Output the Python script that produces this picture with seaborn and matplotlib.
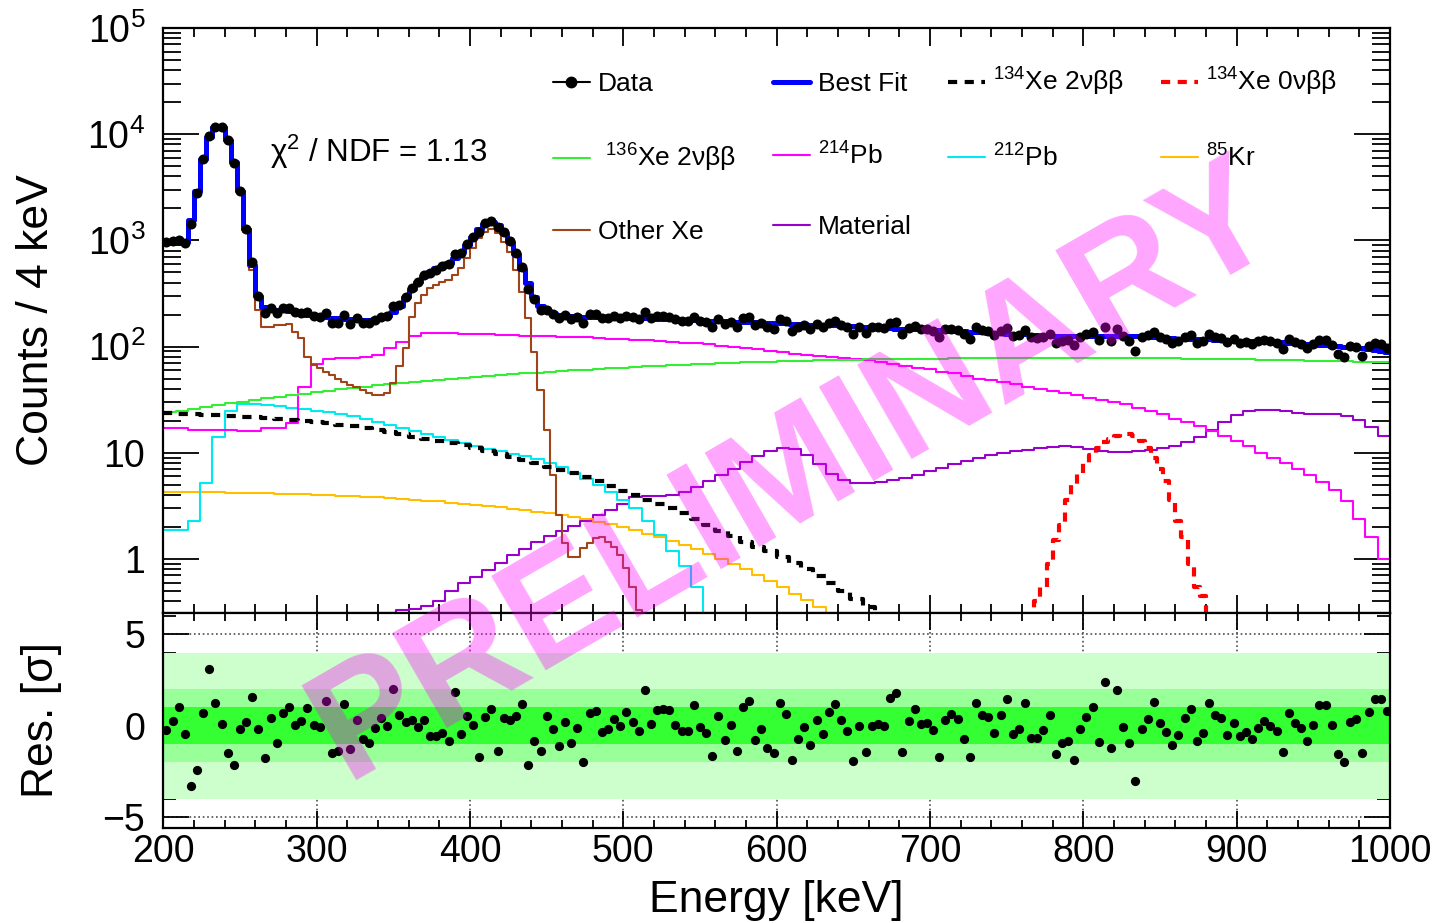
import numpy as np
import matplotlib
matplotlib.use("Agg")
import matplotlib.pyplot as plt
from matplotlib.lines import Line2D
from matplotlib.ticker import MultipleLocator, LogLocator, NullFormatter
import seaborn as sns

# binning in keV
edges4 = np.arange(200, 1001, 4)
edges8 = np.arange(200, 1001, 8)
centers4 = edges4[:-1] + 2

# data counts per 4 keV
data_counts = [
    968, 993, 1011, 946, 1430, 2820, 5852, 9700, 11732, 11611,
    8759, 5341, 2890, 1278, 628, 297, 208, 231, 208, 230,
    230, 211, 209, 213, 195, 192, 209, 166, 166, 199,
    164, 184, 168, 165, 179, 191, 195, 241, 249, 294,
    356, 409, 472, 493, 532, 571, 595, 738, 762, 922,
    1072, 1209, 1457, 1515, 1339, 1195, 981, 755, 567, 352,
    281, 219, 223, 203, 185, 200, 182, 191, 165, 201,
    201, 184, 186, 193, 187, 196, 189, 181, 211, 186,
    195, 195, 192, 181, 176, 175, 192, 175, 170, 153,
    181, 163, 172, 154, 185, 188, 160, 167, 152, 148,
    182, 173, 140, 154, 161, 148, 164, 154, 168, 173,
    161, 152, 131, 154, 135, 152, 152, 150, 168, 170,
    130, 150, 157, 146, 146, 140, 122, 145, 147, 143,
    130, 118, 152, 143, 140, 129, 140, 149, 126, 128,
    144, 122, 120, 124, 132, 109, 114, 115, 104, 123,
    130, 137, 116, 153, 112, 148, 125, 114, 91, 122,
    128, 137, 124, 117, 108, 113, 123, 128, 109, 113,
    130, 122, 121, 110, 117, 108, 110, 106, 112, 115,
    112, 108, 95, 117, 110, 106, 98, 106, 116, 115,
    103, 86, 80, 101, 100, 81, 101, 107, 105, 96,
]

best_fit = [
    975, 985, 980, 960, 1560, 2950, 5800, 9400, 11600, 11600,
    8900, 5500, 2900, 1270, 590, 300, 235, 225, 222, 220,
    215, 210, 205, 200, 195, 193, 190, 187, 185, 183,
    181, 180, 178, 178, 180, 185, 195, 212, 240, 290,
    350, 410, 465, 505, 545, 580, 615, 690, 775, 905,
    1070, 1270, 1440, 1480, 1390, 1180, 970, 740, 540, 395,
    295, 240, 215, 205, 200, 197, 195, 193, 192, 191,
    190, 189, 188, 188, 187, 186, 186, 185, 185, 184,
    183, 182, 181, 180, 179, 178, 177, 176, 175, 175,
    174, 173, 172, 172, 171, 170, 170, 169, 168, 167,
    166, 165, 164, 163, 162, 161, 160, 160, 159, 158,
    157, 156, 155, 154, 153, 152, 151, 150, 149, 148,
    148, 147, 146, 145, 144, 143, 142, 141, 140, 139,
    139, 138, 137, 136, 135, 134, 133, 132, 131, 130,
    130, 129, 128, 127, 126, 126, 125, 125, 125, 125,
    125, 126, 126, 126, 126, 126, 126, 125, 125, 124,
    124, 123, 122, 121, 120, 119, 119, 118, 118, 117,
    117, 116, 116, 115, 115, 114, 114, 113, 113, 112,
    112, 111, 110, 109, 108, 107, 106, 105, 104, 103,
    102, 101, 100, 99, 97, 96, 94, 93, 91, 89,
]

residuals = [
    -0.23, 0.26, 1.0, -0.45, -3.3, -2.4, 0.68, 3.1, 1.23, 0.1,
    -1.5, -2.14, -0.19, 0.23, 1.57, -0.19, -1.74, 0.41, -0.92, 0.68,
    1.0, 0.07, 0.26, 0.95, 0.03, -0.07, 1.36, -1.5, -1.38, 1.2,
    -1.27, 0.3, -0.72, -0.96, -0.1, 0.45, 0.0, 2.0, 0.6, 0.23,
    0.32, -0.07, 0.32, -0.54, -0.54, -0.38, -0.81, 1.83, -0.45, 0.55,
    0.07, -1.7, 0.46, 0.9, -1.38, 0.43, 0.34, 0.55, 1.17, -2.16,
    -0.81, -1.38, 0.53, -0.17, -1.09, 0.21, -0.96, -0.14, -1.96, 0.7,
    0.79, -0.35, -0.16, 0.39, -0.03, 0.75, 0.23, -0.3, 1.94, 0.12,
    0.88, 0.94, 0.85, 0.07, -0.26, -0.26, 1.15, -0.05, -0.41, -1.67,
    0.55, -0.79, 0.03, -1.38, 1.04, 1.37, -0.76, -0.17, -1.2, -1.5,
    1.22, 0.66, -1.85, -0.74, -0.05, -1.05, 0.34, -0.47, 0.73, 1.2,
    0.3, -0.3, -1.94, 0.0, -1.42, -0.02, 0.12, -0.02, 1.54, 1.78,
    -1.45, 0.25, 0.92, 0.1, 0.17, -0.23, -1.72, 0.32, 0.63, 0.35,
    -0.74, -1.68, 1.26, 0.59, 0.46, -0.39, 0.61, 1.47, -0.47, -0.18,
    1.26, -0.65, -0.67, -0.23, 0.57, -1.54, -0.96, -0.85, -1.87, -0.18,
    0.48, 1.0, -0.9, 2.41, -1.2, 1.96, -0.05, -0.96, -3.03, -0.16,
    0.39, 1.3, 0.15, -0.36, -1.07, -0.52, 0.41, 0.9, -0.83, -0.41,
    1.22, 0.59, 0.45, -0.5, 0.17, -0.56, -0.36, -0.71, -0.14, 0.28,
    -0.02, -0.31, -1.44, 0.72, 0.17, -0.14, -0.81, 0.07, 1.15, 1.13,
    0.07, -1.54, -1.96, 0.19, 0.35, -1.5, 0.75, 1.48, 1.48, 0.79,
]

# other Xe (4 keV bins)
other_xe = [
    940, 960, 950, 930, 1500, 2850, 5700, 9300, 11500, 11500,
    8800, 5400, 2800, 1200, 525, 221, 154, 154, 160, 160,
    162, 138, 120, 80, 67, 62.5, 58, 54, 50, 46.6,
    43.5, 42, 39, 36.3, 35, 35, 36.3, 45, 65, 96,
    190, 257, 305, 353, 380, 407, 420, 470, 545, 680,
    840, 1050, 1200, 1270, 1170, 970, 780, 525, 330, 185,
    89, 39, 16.4, 6.2, 2.6, 1.4, 1.05, 1.05, 1.26, 1.4,
    1.57, 1.6, 1.45, 1.3, 1.09, 0.82, 0.55, 0.33,
] + [0] * 122

# 134Xe 0vbb peak (4 keV bins)
xe134_0nbb = [0] * 142 + [
    0.4, 0.55, 0.9, 1.5, 2.1, 3.6, 5.0, 6.5, 8.0, 9.5,
    11, 12.5, 13.5, 14.5, 15, 15, 14.5, 13, 11, 9,
    7, 5.4, 3.6, 2.3, 1.6, 0.9, 0.55, 0.45,
] + [0] * 30

# the remaining components are read on 8 keV steps
xe136_2nbb = [
    24, 25, 26, 27, 28.2, 29.3, 30.4, 31.5, 32.6, 33.7,
    34.8, 36, 37.2, 38.4, 39.6, 40.8, 42, 43.2, 44.4, 45.5,
    46.6, 47.7, 48.8, 49.9, 51, 52, 53, 54, 55, 56,
    57, 57.9, 58.8, 59.7, 60.6, 61.5, 62.4, 63.3, 64.2, 65,
    65.8, 66.6, 67.4, 68.2, 69, 69.7, 70.4, 71, 71.6, 72.2,
    72.7, 73.2, 73.7, 74.1, 74.5, 74.9, 75.3, 75.6, 75.9, 76.2,
    76.5, 76.7, 76.9, 77.1, 77.3, 77.5, 77.6, 77.7, 77.8, 77.9,
    78, 78, 78.1, 78.1, 78.1, 78.1, 78, 78, 77.9, 77.8,
    77.7, 77.5, 77.3, 77.1, 76.9, 76.6, 76.3, 76, 75.7, 75.4,
    75, 74.6, 74.2, 73.8, 73.4, 73, 72.6, 72.2, 71.8, 71.4,
]

pb214 = [
    17, 17, 16.5, 16.5, 16.5, 16.5, 16, 16, 17, 17,
    19, 42, 68, 77, 78, 78, 80, 83, 97, 110,
    125, 133, 134, 133, 131, 131, 130, 129, 128, 127,
    126, 125, 124, 123, 122, 121, 119, 118, 116, 115,
    113, 111, 109, 107, 105, 102, 100, 97, 94, 91,
    88, 86, 84, 82, 80, 78, 76, 74, 71, 68,
    66, 63, 61, 58, 56, 53, 50, 48, 46, 44,
    42, 40, 38, 36.5, 35, 33, 31.5, 30, 28.5, 26.5,
    25, 23, 21, 19.5, 18, 16, 14.5, 13, 11.5, 10,
    9, 8, 7, 6.2, 5.3, 4.5, 3.5, 2.4, 1.6, 1.0,
]

pb212 = [
    1.88, 1.88, 2.3, 5.2, 14, 25, 28.8, 28.5, 28, 27.3,
    26.6, 25.8, 25, 24.2, 23.2, 22, 20.8, 19.6, 18.3, 17.2,
    16.1, 15.1, 14.2, 13.3, 12.4, 11.6, 10.9, 10.3, 9.8, 9.3,
    8.7, 8, 7.3, 6.5, 5.7, 5, 4.3, 3.6, 3, 2.3,
    1.7, 1.2, 0.85, 0.55,
] + [0] * 56

kr85 = [
    4.3, 4.3, 4.28, 4.26, 4.24, 4.22, 4.2, 4.18, 4.15, 4.12,
    4.1, 4.07, 4.03, 3.99, 3.95, 3.9, 3.85, 3.8, 3.74, 3.68,
    3.62, 3.55, 3.48, 3.4, 3.32, 3.24, 3.15, 3.06, 2.97, 2.88,
    2.79, 2.69, 2.59, 2.48, 2.37, 2.25, 2.12, 1.99, 1.86, 1.73,
    1.6, 1.48, 1.36, 1.24, 1.12, 1.01, 0.9, 0.8, 0.71, 0.62,
    0.54, 0.47, 0.41, 0.35,
] + [0] * 46

xe134_2nbb = [
    23.5, 23.3, 23, 22.8, 22.5, 22.2, 21.9, 21.5, 21.1, 20.7,
    20.3, 19.9, 19.5, 19, 18.4, 17.8, 17.1, 16.3, 15.6, 14.9,
    14.2, 13.6, 13, 12.4, 11.8, 11.1, 10.4, 9.8, 9.2, 8.6,
    8, 7.4, 6.9, 6.4, 5.9, 5.4, 4.9, 4.4, 4, 3.6,
    3.3, 3.0, 2.7, 2.4, 2.1, 1.85, 1.65, 1.45, 1.3, 1.18,
    1.05, 0.92, 0.8, 0.69, 0.6, 0.5, 0.42, 0.35,
] + [0] * 42

material = [0] * 19 + [
    0.33, 0.34, 0.36, 0.4, 0.5, 0.6, 0.68, 0.78, 0.92, 1.08, 1.25,
    1.45, 1.65, 1.85, 2.05, 2.3, 2.6, 2.9, 3.3, 3.8, 3.9,
    3.9, 4.0, 4.3, 4.8, 5.4, 6.2, 7.1, 8.2, 9.4, 10.4,
    11, 10.8, 9.6, 7.8, 6.3, 5.5, 5.2, 5.2, 5.3, 5.5,
    5.8, 6.2, 6.7, 7.2, 7.8, 8.4, 9.0, 9.5, 9.9, 10.3,
    10.7, 11.1, 11.4, 11.5, 11.3, 10.8, 10.4, 10.2, 10.2, 10.4,
    10.6, 11, 11.6, 12.5, 14, 16.5, 19.5, 22.5, 24.5, 25.5,
    25.5, 24.5, 23.5, 23, 23, 23, 22.3, 20.5, 17.5, 14.5,
]

sns.set_style("ticks")
plt.rcParams["font.family"] = ["Liberation Sans", "DejaVu Sans"]
plt.rcParams["mathtext.fontset"] = "custom"
plt.rcParams["mathtext.rm"] = "Liberation Sans"
plt.rcParams["mathtext.it"] = "Liberation Sans:italic"
plt.rcParams["mathtext.bf"] = "Liberation Sans:bold"
for key in ("text.color", "axes.labelcolor", "xtick.color", "ytick.color",
            "axes.edgecolor"):
    plt.rcParams[key] = "black"


def hist_line(ax, edges, values, **kws):
    y = np.append(values, values[-1])
    sns.lineplot(x=edges, y=y, drawstyle="steps-post", estimator=None,
                 sort=False, legend=False, ax=ax, **kws)


W, H = 1437, 923
fig = plt.figure(figsize=(W / 100, H / 100), dpi=100)
x0, x1 = 163.3, 1390
ax = fig.add_axes([x0 / W, 1 - 613 / H, (x1 - x0) / W, (613 - 28) / H])
rax = fig.add_axes([x0 / W, 1 - 828 / H, (x1 - x0) / W, (828 - 613) / H])

thin = 1.5
dash = (0, (2.2, 1.8))
hist_line(ax, edges8, material, color="#9a00cc", lw=thin)
hist_line(ax, edges8, kr85, color="#ffbf00", lw=thin)
hist_line(ax, edges8, pb212, color="#00e8f0", lw=thin)
hist_line(ax, edges8, pb214, color="#ff00ff", lw=thin)
hist_line(ax, edges8, xe136_2nbb, color="#33ee33", lw=thin)
hist_line(ax, edges4, other_xe, color="#a0441a", lw=thin)
hist_line(ax, edges8, xe134_2nbb, color="black", lw=3, linestyle=dash)
hist_line(ax, edges4, xe134_0nbb, color="#ff0000", lw=3, linestyle=dash)
hist_line(ax, edges4, best_fit, color="#0000ff", lw=3.6)
sns.scatterplot(x=centers4, y=data_counts, color="black", s=52,
                linewidth=0, zorder=6, ax=ax)

ax.set_yscale("log", nonpositive="clip")
ax.set_xlim(200, 1000)
ax.set_ylim(0.31, 1e5)
ax.set_yticks([1, 10, 100, 1e3, 1e4, 1e5],
              labels=["1", "10", r"$10^{2}$", r"$10^{3}$", r"$10^{4}$", r"$10^{5}$"])
ax.yaxis.set_minor_locator(LogLocator(base=10, subs=np.arange(2, 10)))
ax.yaxis.set_minor_formatter(NullFormatter())
ax.xaxis.set_major_locator(MultipleLocator(100))
ax.xaxis.set_minor_locator(MultipleLocator(20))
ax.tick_params(which="both", direction="in", top=True, right=True, width=1.3,
               labelbottom=False, labelsize=27, pad=13)
ax.tick_params(axis="x", which="major", length=13)
ax.tick_params(axis="x", which="minor", length=6.5)
ax.tick_params(axis="y", which="major", length=26)
ax.tick_params(axis="y", which="minor", length=13)
ax.set_ylabel("Counts / 4 keV", fontsize=32)
ax.yaxis.set_label_coords(-0.087, 0.5)

ax.text(0.087, 0.788, "χ$^{2}$ / NDF = 1.13", transform=ax.transAxes,
        fontsize=22.5, va="center", ha="left")

handles = [
    Line2D([], [], color="black", marker="o", ms=7.5, lw=1.5),
    Line2D([], [], color="#33ee33", lw=thin),
    Line2D([], [], color="#a0441a", lw=thin),
    Line2D([], [], color="#0000ff", lw=3.6),
    Line2D([], [], color="#ff00ff", lw=thin),
    Line2D([], [], color="#9a00cc", lw=thin),
    Line2D([], [], color="black", lw=3, linestyle=dash),
    Line2D([], [], color="#00e8f0", lw=thin),
    Line2D([], [], color="#ff0000", lw=3, linestyle=dash),
    Line2D([], [], color="#ffbf00", lw=thin),
]
labels = [
    "Data", r" $^{136}$Xe 2νββ", "Other Xe",
    "Best Fit", r"$^{214}$Pb", "Material",
    r"$^{134}$Xe 2νββ", r"$^{212}$Pb",
    r"$^{134}$Xe 0νββ", r"$^{85}$Kr",
]
ax.legend(handles, labels, ncol=4, loc="upper left",
          bbox_to_anchor=(0.3177, 0.935), frameon=False, fontsize=19,
          handlelength=1.4, handletextpad=0.3, columnspacing=1.4,
          labelspacing=1.75, borderpad=0, borderaxespad=0)

# residual panel
for xv in range(300, 1000, 100):
    rax.axvline(xv, color="0.3", ls=":", lw=1.2, zorder=0.5)
for yv in (-5, 0, 5):
    rax.axhline(yv, color="0.3", ls=":", lw=1.2, zorder=0.5)
rax.axhspan(-4, 4, color="#ccffcc", lw=0, zorder=1)
rax.axhspan(-2, 2, color="#99ff99", lw=0, zorder=1.1)
rax.axhspan(-1, 1, color="#33ff33", lw=0, zorder=1.2)
sns.scatterplot(x=centers4, y=residuals, color="black", s=44,
                linewidth=0, zorder=5, ax=rax)
rax.set_xlim(200, 1000)
rax.set_ylim(-5.58, 6.16)
rax.set_yticks([-5, 0, 5])
rax.yaxis.set_minor_locator(MultipleLocator(1))
rax.xaxis.set_major_locator(MultipleLocator(100))
rax.xaxis.set_minor_locator(MultipleLocator(20))
rax.tick_params(which="both", direction="in", top=True, right=True, width=1.3,
                labelsize=27)
rax.tick_params(axis="y", which="major", length=19, pad=13)
rax.tick_params(axis="y", which="minor", length=9.5)
rax.tick_params(axis="x", which="major", length=12, pad=4)
rax.tick_params(axis="x", which="minor", length=5.5)
rax.set_ylabel("Res. [σ]", fontsize=32)
rax.yaxis.set_label_coords(-0.0826, 0.5)
rax.set_xlabel("Energy [keV]", fontsize=32, va="center")
rax.xaxis.set_label_coords(0.5, -0.335)

for a in (ax, rax):
    for sp in a.spines.values():
        sp.set_linewidth(1.6)
        sp.set_zorder(10)

fig.text(0.553, 0.487, "PRELIMINARY", rotation=30, fontsize=114,
         fontweight="bold", color="#ff00ff", alpha=0.35, ha="center",
         va="center", rotation_mode="anchor", zorder=20)

fig.savefig("out.png", dpi=100)
